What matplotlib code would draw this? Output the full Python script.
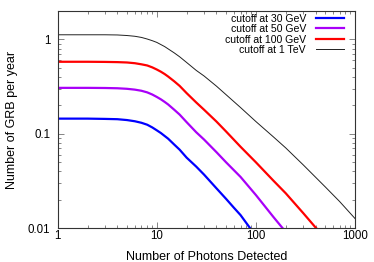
import matplotlib.pyplot as plt
from matplotlib.ticker import NullFormatter

plt.rcParams['font.family'] = ['Liberation Sans', 'DejaVu Sans']

# values
x_30 = [1, 2, 3, 4, 5, 6, 7, 8, 9, 10, 11, 12, 13, 15, 17, 20, 25, 30, 40, 50, 60, 70, 87, 90]
y_30 = [0.145, 0.145, 0.144, 0.143, 0.140, 0.136, 0.131, 0.125, 0.117, 0.109, 0.102,
        0.095, 0.089, 0.077, 0.068, 0.056, 0.045, 0.037, 0.0265, 0.0205, 0.0165,
        0.0138, 0.0101, 0.0097]

x_50 = [1, 2, 3, 4, 5, 6, 7, 8, 9, 10, 11, 12, 13, 15, 17, 20, 25, 30, 40, 50, 70,
        100, 150, 185, 190]
y_50 = [0.307, 0.307, 0.306, 0.304, 0.300, 0.294, 0.286, 0.275, 0.261, 0.246, 0.232,
        0.218, 0.205, 0.180, 0.160, 0.133, 0.104, 0.087, 0.064, 0.050, 0.035,
        0.0225, 0.0132, 0.0101, 0.0098]

x_100 = [1, 2, 3, 4, 5, 6, 7, 8, 9, 10, 11, 12, 13, 15, 17, 20, 25, 30, 40, 50, 70,
         100, 150, 200, 300, 400, 420]
y_100 = [0.58, 0.58, 0.578, 0.575, 0.57, 0.56, 0.545, 0.53, 0.506, 0.48, 0.455,
         0.43, 0.405, 0.36, 0.322, 0.27, 0.215, 0.18, 0.135, 0.106, 0.073, 0.050,
         0.032, 0.0235, 0.0145, 0.0102, 0.0097]

x_1tev = [1, 2, 3, 4, 5, 6, 7, 8, 9, 10, 12, 15, 17, 20, 25, 30, 40, 50, 70, 100,
          150, 200, 300, 500, 700, 1000]
y_1tev = [1.12, 1.12, 1.12, 1.115, 1.10, 1.08, 1.05, 1.01, 0.97, 0.93, 0.84, 0.72,
          0.655, 0.57, 0.47, 0.41, 0.32, 0.26, 0.19, 0.135, 0.093, 0.071, 0.047,
          0.0275, 0.0192, 0.0127]

labels = ['cutoff at 30 GeV', 'cutoff at 50 GeV', 'cutoff at 100 GeV', 'cutoff at 1 TeV']

W, H = 374, 262
fig = plt.figure(figsize=(W / 100, H / 100), dpi=100)
ax = fig.add_axes([57.7 / W, 1 - 228.3 / H, (355 - 57.7) / W, (228.3 - 11) / H])

ax.plot(x_30, y_30, color='#0000ff', lw=1.6, label=labels[0])
ax.plot(x_50, y_50, color='#a800f8', lw=1.6, label=labels[1])
ax.plot(x_100, y_100, color='#ff0000', lw=1.6, label=labels[2])
ax.plot(x_1tev, y_1tev, color='#202020', lw=0.7, label=labels[3])

ax.set_xscale('log')
ax.set_yscale('log')
ax.set_xlim(1, 1000)
ax.set_ylim(0.01, 2)

ax.set_xticks([1, 10, 100, 1000], labels=['1', '10', '100', '1000'])
ax.set_yticks([0.01, 0.1, 1], labels=['0.01', '0.1', '1'])
ax.xaxis.set_minor_formatter(NullFormatter())
ax.yaxis.set_minor_formatter(NullFormatter())
ax.tick_params(which='both', direction='in', top=True, right=True,
               width=0.5, color='#555555', labelsize=8.3)
ax.tick_params(which='major', length=4)
ax.tick_params(which='minor', length=2)
ax.tick_params(axis='x', pad=1.5)
ax.tick_params(axis='y', pad=5.5)
for s in ax.spines.values():
    s.set_linewidth(0.8)
    s.set_color('#333333')

ax.set_xlabel('Number of Photons Detected', fontsize=9, labelpad=6.5)
ax.set_ylabel('Number of GRB per year', fontsize=9, labelpad=7)

leg = ax.legend(loc='upper right', bbox_to_anchor=(344 / W, 1 - 13.5 / H),
                bbox_transform=fig.transFigure, frameon=False, markerfirst=False,
                fontsize=7.6, handlelength=2.7, handletextpad=0.9,
                labelspacing=0.05, borderpad=0, borderaxespad=0)

fig.savefig('out.png', dpi=100)
